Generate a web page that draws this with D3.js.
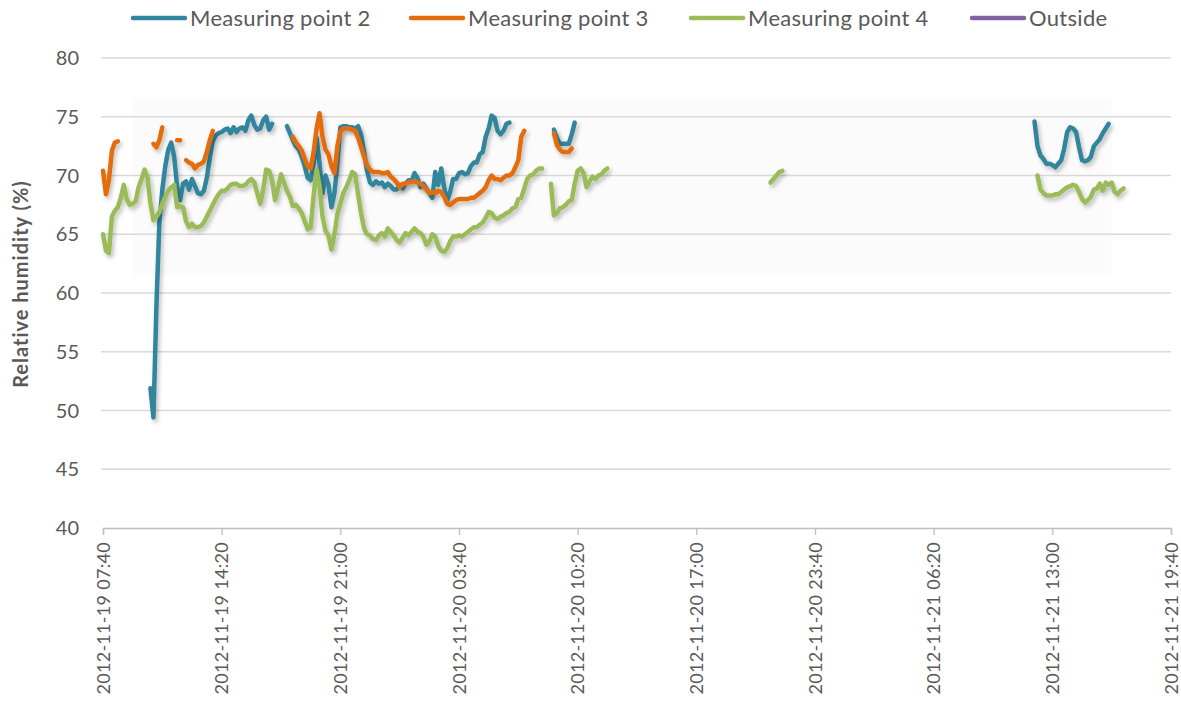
<!DOCTYPE html>
<html>
<head>
<meta charset="utf-8">
<script src="https://cdn.jsdelivr.net/npm/d3@7"></script>
<style>
  body { margin: 0; background: #fff; }
  svg { display: block; font-family: Lato, "Open Sans", sans-serif; }
</style>
</head>
<body>
<svg id="chart"></svg>
<script>
// logger readings, one value every 10 minutes, each run starts at the given time
const mp2 = [
  ["2012-11-19 10:20", [51.9, 49.4, 58.8, 66.0, 68.8, 70.8, 72.2, 72.8, 71.6, 69.0, 67.9, 69.3, 69.5, 68.8, 69.7, 69.1,
    68.5, 68.4, 68.7, 69.8, 71.5, 72.9, 73.4, 73.6, 73.7, 73.9, 74.0, 73.6, 74.1, 73.7, 74.0, 74.1, 73.8, 74.7, 75.1, 74.3,
    73.9, 74.0, 74.7, 75.0, 73.9, 74.4]],
  ["2012-11-19 18:00", [74.2, 73.6, 73.0, 72.5, 72.2, 71.6, 70.8, 69.8, 69.6, 71.0, 73.2, 71.0, 68.5, 70.0, 69.2, 67.3,
    68.5, 71.0, 74.1, 74.2, 74.2, 74.1, 74.1, 74.0, 74.2, 73.5, 72.0, 70.4, 69.4, 69.2, 69.5, 69.3, 69.4, 69.0, 69.3,
    69.1, 68.8, 68.8, 69.2, 68.9, 69.3, 69.6, 69.5, 70.2, 69.8, 69.0, 69.3, 68.9, 68.5, 68.1, 70.3, 69.2, 70.6, 69.0,
    67.9, 68.6, 69.7, 69.7, 70.2, 70.3, 70.1, 70.2, 70.8, 71.1, 71.1, 71.8, 72.0, 73.3, 74.0, 75.1, 74.9, 73.8, 73.5,
    73.8, 74.4, 74.5]],
  ["2012-11-20 09:00", [73.9, 73.2, 72.7, 72.7, 72.7, 72.7, 73.5, 74.5]],
  ["2012-11-21 12:00", [74.6, 72.5, 71.7, 71.4, 71.0, 71.0, 70.9, 70.7, 71.0, 71.3, 72.3, 73.7, 74.1, 74.0, 73.7, 72.4,
    71.3, 71.2, 71.3, 71.6, 72.5, 72.8, 73.1, 73.6, 74.0, 74.4]]
];

const mp3 = [
  ["2012-11-19 07:40", [70.4, 68.4, 69.6, 72.1, 72.8, 72.9]],
  ["2012-11-19 10:30", [72.7, 72.4, 73.0, 74.1]],
  ["2012-11-19 11:50", [73.0, 73.0]],
  ["2012-11-19 12:20", [71.3, 71.1, 71.0, 70.6, 70.9, 71.0, 71.2, 72.0, 73.0, 73.8]],
  ["2012-11-19 18:20", [73.3, 72.8, 72.5, 72.1, 71.4, 70.8, 70.6, 72.0, 74.0, 75.3, 73.3, 72.2, 71.8, 70.8, 70.2, 72.5,
    73.7, 74.0, 74.0, 74.0, 73.9, 73.8, 73.2, 72.4, 71.6, 70.9, 70.5, 70.3, 70.3, 70.3, 70.2, 70.2, 70.3, 69.9, 69.7,
    69.4, 69.0, 69.3, 69.3, 69.4, 69.5, 69.5, 69.4, 69.3, 69.1, 68.8, 68.5, 68.6, 68.5, 68.7, 68.6, 68.2, 67.6, 67.5,
    67.7, 67.9, 68.0, 68.0, 68.0, 68.0, 68.1, 68.1, 68.3, 68.5, 68.7, 69.0, 69.6, 70.0, 69.7, 69.7, 69.6, 69.8, 70.0,
    70.0, 70.2, 70.7, 71.3, 73.3, 73.8]],
  ["2012-11-20 09:00", [73.6, 72.6, 72.2, 72.0, 72.0, 72.0, 72.3]]
];

const mp4 = [
  ["2012-11-19 07:40", [65.0, 63.6, 63.4, 66.5, 67.0, 67.3, 68.1, 69.2, 68.0, 67.5, 67.6, 67.8, 69.0, 69.7, 70.5, 69.8,
    67.6, 66.2, 66.5, 66.9, 67.6, 68.2, 68.7, 69.0, 69.2, 67.3, 67.4, 67.3, 66.1, 65.6, 65.9, 65.6, 65.6, 65.7, 66.0,
    66.5, 67.0, 67.5, 68.0, 68.4, 68.7, 68.7, 68.9, 69.2, 69.3, 69.3, 69.1, 69.1, 69.2, 69.5, 69.7, 69.4, 68.5, 67.6,
    68.8, 70.5, 70.4, 69.6, 67.9, 68.9, 70.1, 69.4, 68.7, 68.2, 67.4, 67.5, 67.2, 66.8, 66.1, 65.4, 65.6, 68.3, 70.5,
    69.1, 66.5, 65.3, 64.9, 63.7, 65.0, 66.7, 67.6, 68.5, 69.0, 69.6, 70.3, 70.1, 68.4, 66.8, 65.5, 65.0, 64.9, 64.6,
    64.5, 64.9, 65.1, 64.8, 65.5, 65.2, 64.9, 64.5, 64.3, 64.7, 65.1, 64.9, 65.2, 65.5, 65.2, 65.1, 64.8, 64.1, 64.4,
    65.0, 64.8, 64.0, 63.6, 63.5, 63.8, 64.4, 64.8, 64.8, 64.9, 64.8, 65.0, 65.2, 65.4, 65.6, 65.6, 65.8, 66.0, 66.4,
    66.9, 66.8, 66.4, 66.3, 66.5, 66.6, 66.8, 66.9, 67.2, 67.3, 68.0, 68.1, 68.9, 69.7, 70.0, 70.1, 70.4, 70.6, 70.6]],
  ["2012-11-20 08:50", [69.3, 66.6, 66.8, 67.2, 67.3, 67.5, 67.8, 67.9, 69.3, 70.4, 70.6, 70.2, 69.0, 69.5, 69.9, 69.7,
    70.0, 70.1, 70.4, 70.6]],
  ["2012-11-20 21:10", [69.4, 69.7, 70.0, 70.3, 70.4]],
  ["2012-11-21 12:10", [70.0, 68.8, 68.5, 68.3, 68.3, 68.3, 68.4, 68.4, 68.6, 68.8, 69.0, 69.1, 69.2, 69.1, 68.6, 68.0,
    67.7, 67.9, 68.2, 68.8, 68.9, 69.3, 68.7, 69.4, 69.2, 69.4, 68.6, 68.4, 68.7, 68.9]]
];

const outside = [];

const seriesNames = ["Measuring point 2", "Measuring point 3", "Measuring point 4", "Outside"];
const seriesColors = ["#31859c", "#e46c0a", "#9bbb59", "#8064a2"];
const seriesData = [mp2, mp3, mp4, outside];

const xStart = "2012-11-19 07:40", xEnd = "2012-11-21 19:40";
const tickStepMinutes = 400;
const yTicks = [40, 45, 50, 55, 60, 65, 70, 75, 80];
const yTitle = "Relative humidity (%)";

const W = 1181, H = 704;
const margin = { top: 58, right: 10, bottom: 176, left: 103 };
const parse = d3.timeParse("%Y-%m-%d %H:%M");
const fmt = d3.timeFormat("%Y-%m-%d %H:%M");

const svg = d3.select("#chart").attr("width", W).attr("height", H);

const x = d3.scaleTime()
  .domain([parse(xStart), parse(xEnd)])
  .range([margin.left, 1171]);
const y = d3.scaleLinear()
  .domain([40, 80])
  .range([H - margin.bottom, margin.top]);

const defs = svg.append("defs");
defs.append("filter").attr("id", "shadow")
  .attr("x", "-5%").attr("y", "-5%").attr("width", "110%").attr("height", "120%")
  .append("feDropShadow")
  .attr("dx", 2).attr("dy", 3).attr("stdDeviation", 2)
  .attr("flood-color", "#000").attr("flood-opacity", 0.25);

// faint plot-area shading seen behind the lines
svg.append("rect")
  .attr("x", x(parse("2012-11-19 09:20")))
  .attr("y", y(76.5))
  .attr("width", x(parse("2012-11-21 16:20")) - x(parse("2012-11-19 09:20")))
  .attr("height", y(61.5) - y(76.5))
  .attr("fill", "#fbfbfb");

// gridlines
svg.append("g")
  .selectAll("line")
  .data(yTicks.slice(1))
  .enter()
  .append("line")
  .attr("x1", margin.left - 2).attr("x2", 1171)
  .attr("y1", d => y(d)).attr("y2", d => y(d))
  .attr("stroke", "#d9d9d9").attr("stroke-width", 1.3);

// y labels
svg.append("g")
  .selectAll("text")
  .data(yTicks)
  .enter()
  .append("text")
  .attr("x", 79)
  .attr("y", d => y(d))
  .attr("dy", "0.35em")
  .attr("text-anchor", "end")
  .attr("fill", "#595959")
  .attr("font-size", 20)
  .text(d => d);

svg.append("text")
  .attr("transform", `translate(28,284) rotate(-90)`)
  .attr("text-anchor", "middle")
  .attr("font-size", 20)
  .attr("letter-spacing", 1)
  .attr("font-weight", "bold")
  .attr("fill", "#595959")
  .text(yTitle);

// x axis
const xTicks = d3.range(0, 10).map(i => d3.timeMinute.offset(parse(xStart), i * tickStepMinutes));
const xAxis = svg.append("g")
  .attr("transform", `translate(0,${y(40)})`)
  .call(d3.axisBottom(x).tickValues(xTicks).tickSize(7).tickFormat(d => fmt(d)));
xAxis.select(".domain").attr("stroke", "#bfbfbf").attr("stroke-width", 1.5);
xAxis.selectAll(".tick line").attr("stroke", "#bfbfbf").attr("stroke-width", 1.3);
xAxis.selectAll(".tick text")
  .attr("font-family", "Lato, sans-serif")
  .attr("font-size", 18)
  .attr("letter-spacing", 0.3)
  .attr("fill", "#595959")
  .attr("text-anchor", "end")
  .attr("transform", "rotate(-90)")
  .attr("x", -14)
  .attr("y", 0)
  .attr("dy", "0.35em");

// lines
const line = d3.line()
  .x(d => x(d[0]))
  .y(d => y(d[1]));

seriesData.forEach((runs, i) => {
  const g = svg.append("g").attr("filter", "url(#shadow)");
  runs.forEach(([start, vals]) => {
    const t0 = parse(start);
    const pts = vals.map((v, j) => [d3.timeMinute.offset(t0, j * 10), v]);
    g.append("path")
      .datum(pts)
      .attr("d", line)
      .attr("fill", "none")
      .attr("stroke", seriesColors[i])
      .attr("stroke-width", 4.5)
      .attr("stroke-linejoin", "round")
      .attr("stroke-linecap", "round");
  });
});

// legend
const legendX = [131, 409, 689, 970];
const legend = svg.append("g")
  .selectAll("g")
  .data(seriesNames)
  .enter()
  .append("g")
  .attr("transform", (d, i) => `translate(${legendX[i]},18)`);
legend.append("line")
  .attr("x1", 2).attr("x2", 54)
  .attr("stroke", (d, i) => seriesColors[i])
  .attr("stroke-width", 4.5)
  .attr("stroke-linecap", "round");
legend.append("text")
  .attr("x", 59)
  .attr("dy", "0.35em")
  .attr("font-size", 22)
  .attr("letter-spacing", 0.3)
  .attr("fill", "#595959")
  .text(d => d);
</script>
</body>
</html>
